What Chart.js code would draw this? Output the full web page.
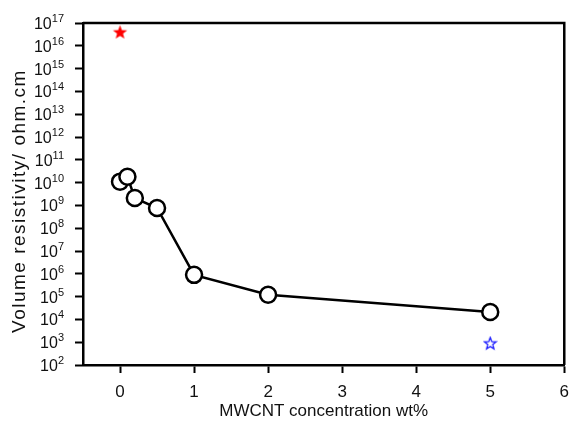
<!DOCTYPE html>
<html>
<head>
<meta charset="utf-8">
<script src="https://cdn.jsdelivr.net/npm/chart.js@4"></script>
<style>
  html, body { margin: 0; padding: 0; background: #fff; }
  #wrap { width: 578px; height: 423px; }
</style>
</head>
<body>
<div id="wrap"><canvas id="chart" width="578" height="423"></canvas></div>
<script>
// data
const concentrations = [0, 0.1, 0.2, 0.5, 1, 2, 5];
const resistivity = [1.1e10, 1.8e10, 2.1e9, 7.7e8, 9e5, 1.2e5, 2.1e4];
const redStarX = [0];
const redStarY = [4e16];
const blueStarX = [5];
const blueStarY = [9e2];
const xTicks = [0, 1, 2, 3, 4, 5, 6];
const yExponents = [2, 3, 4, 5, 6, 7, 8, 9, 10, 11, 12, 13, 14, 15, 16, 17];

const FONT = '"Liberation Sans", Arial, sans-serif';

function pairs(xs, ys) {
  return xs.map((x, i) => ({ x: x, y: ys[i] }));
}

// star markers drawn on small canvases
function makeStar(size, fill, stroke, lw) {
  const c = document.createElement('canvas');
  c.width = size; c.height = size;
  const g = c.getContext('2d');
  const cx = size / 2, cy = size / 2 + 0.5;
  const R = size / 2 - lw, r = R * 0.42;
  g.beginPath();
  for (let i = 0; i < 10; i++) {
    const a = -Math.PI / 2 + i * Math.PI / 5;
    const rad = i % 2 === 0 ? R : r;
    const px = cx + rad * Math.cos(a), py = cy + rad * Math.sin(a);
    if (i === 0) g.moveTo(px, py); else g.lineTo(px, py);
  }
  g.closePath();
  if (fill) { g.fillStyle = fill; g.fill(); }
  if (stroke) { g.strokeStyle = stroke; g.lineWidth = lw; g.stroke(); }
  return c;
}
const redStar = makeStar(17, '#ff0000', null, 1);
const blueStar = makeStar(15, null, '#1010ff', 1.2);

const decor = {
  id: 'decor',
  afterDraw(chart) {
    const ctx = chart.ctx;
    const a = chart.chartArea;
    const y = chart.scales.y;
    ctx.save();
    // top and right frame
    ctx.strokeStyle = '#000';
    ctx.lineWidth = 2.5;
    ctx.beginPath();
    ctx.moveTo(a.left, a.top);
    ctx.lineTo(a.right, a.top);
    ctx.lineTo(a.right, a.bottom);
    ctx.stroke();
    // y tick labels as 10^n
    ctx.fillStyle = '#111';
    ctx.textBaseline = 'alphabetic';
    ctx.letterSpacing = '0px';
    yExponents.forEach(e => {
      const py = y.getPixelForValue(Math.pow(10, e));
      const exp = String(e);
      ctx.font = '11px ' + FONT;
      const ew = ctx.measureText(exp).width;
      const right = a.left - 19;
      ctx.textAlign = 'left';
      ctx.fillText(exp, right - ew, py - 1);
      ctx.font = '16px ' + FONT;
      ctx.textAlign = 'right';
      ctx.fillText('10', right - ew, py + 6);
    });
    // y axis title
    ctx.translate(20, 201);
    ctx.rotate(-Math.PI / 2);
    ctx.textAlign = 'center';
    ctx.textBaseline = 'middle';
    ctx.font = '19px ' + FONT;
    ctx.letterSpacing = '1.5px';
    ctx.fillText('Volume resistivity/ ohm.cm', 0, 0);
    ctx.letterSpacing = '0px';
    ctx.restore();
  }
};

new Chart(document.getElementById('chart'), {
  type: 'scatter',
  data: {
    datasets: [
      {
        data: pairs(concentrations, resistivity),
        showLine: true,
        borderColor: '#000',
        borderWidth: 2.5,
        backgroundColor: '#fff',
        pointBackgroundColor: '#fff',
        pointBorderColor: '#000',
        pointBorderWidth: 2.5,
        pointRadius: 8,
        order: 0
      },
      {
        data: pairs(redStarX, redStarY),
        pointStyle: redStar,
        order: 1
      },
      {
        data: pairs(blueStarX, blueStarY),
        pointStyle: blueStar,
        order: 1
      }
    ]
  },
  options: {
    responsive: false,
    animation: false,
    events: [],
    layout: { padding: { top: 23, right: 5, left: 0, bottom: 1 } },
    plugins: { legend: { display: false }, tooltip: { enabled: false } },
    scales: {
      x: {
        type: 'linear',
        min: -0.5,
        max: 6,
        afterBuildTicks: s => { s.ticks = xTicks.map(v => ({ value: v })); },
        afterFit: s => { s.height = 57; },
        grid: { drawOnChartArea: false, drawTicks: true, tickLength: 8, tickWidth: 2, tickColor: '#000' },
        border: { color: '#000', width: 2.5 },
        ticks: { color: '#111', font: { family: FONT, size: 17 }, padding: 9, maxRotation: 0 },
        title: { display: true, text: 'MWCNT concentration wt%', color: '#111', font: { family: FONT, size: 17 }, padding: { top: 0, bottom: 0 } }
      },
      y: {
        type: 'logarithmic',
        min: 1e2,
        max: 1e17,
        afterBuildTicks: s => { s.ticks = yExponents.map(e => ({ value: Math.pow(10, e), major: true })); },
        afterFit: s => { s.width = 83; },
        grid: { drawOnChartArea: false, drawTicks: true, tickLength: 8, tickWidth: 2, tickColor: '#000' },
        border: { color: '#000', width: 2.5 },
        ticks: { display: false }
      }
    }
  },
  plugins: [decor]
});
</script>
</body>
</html>
